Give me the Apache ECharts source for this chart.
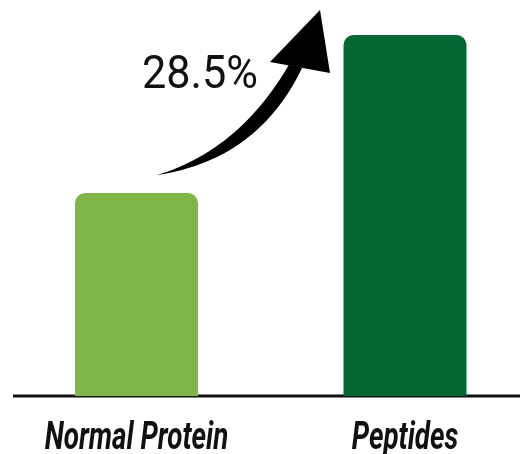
<!DOCTYPE html>
<html><head><meta charset="utf-8">
<script src="https://cdn.jsdelivr.net/npm/echarts@6/dist/echarts.min.js"></script>
<style>html,body{margin:0;padding:0;background:#fff}#c{width:523px;height:454px}</style>
</head><body><div id="c"></div>
<script>
var categories = ['Normal Protein', 'Peptides'];
var values = [56.2, 100];
var barColors = ['#80b648', '#046834'];
var increaseLabel = '28.5%';

function quad(p0, c, p1, n) {
  var pts = [];
  for (var i = 0; i <= n; i++) {
    var t = i / n, u = 1 - t;
    pts.push([u * u * p0[0] + 2 * u * t * c[0] + t * t * p1[0], u * u * p0[1] + 2 * u * t * c[1] + t * t * p1[1]]);
  }
  return pts;
}
var arrowPts = quad([157, 175], [240, 150], [290, 63], 30)
  .concat(quad([302, 68], [258, 160], [157, 175], 30));

var chart = echarts.init(document.getElementById('c'), null, {renderer: 'canvas'});
chart.setOption({
  animation: false,
  grid: {left: 136.5, right: 118, top: 35, bottom: 58},
  xAxis: {
    type: 'category', data: categories, boundaryGap: false,
    axisLine: {show: false}, axisTick: {show: false}, axisLabel: {show: false}
  },
  yAxis: {type: 'value', min: 0, max: 100, show: false, splitLine: {show: false}},
  series: [{
    type: 'bar', barWidth: 123,
    data: values.map(function (v, i) { return {value: v, itemStyle: {color: barColors[i]}}; }),
    itemStyle: {borderRadius: [10, 10, 0, 0]}
  }]
});

var graphics = [
  {type: 'line', shape: {x1: 13, y1: 396, x2: 520, y2: 396}, style: {stroke: '#111', lineWidth: 3}},
  {type: 'text', x: 200, y: 76, scaleX: 0.92, style: {text: increaseLabel, font: '47px Roboto', fill: '#111', textAlign: 'center', textVerticalAlign: 'middle'}},
  {type: 'polygon', shape: {points: arrowPts}, style: {fill: '#000'}},
  {type: 'polygon', shape: {points: [[270, 62], [320, 10], [330, 73]]}, style: {fill: '#000'}}
];
categories.forEach(function (c, i) {
  var x = chart.convertToPixel({xAxisIndex: 0}, i);
  graphics.push({type: 'text', x: x, y: 439, scaleX: 0.73,
    style: {text: c, font: 'italic bold 38px Roboto', fill: '#111', textAlign: 'center', textVerticalAlign: 'middle'}});
});
chart.setOption({graphic: graphics});
</script></body></html>
